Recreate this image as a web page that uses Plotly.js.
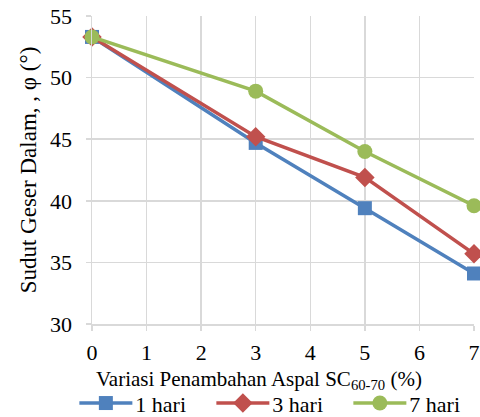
<!DOCTYPE html>
<html><head><meta charset="utf-8">
<script src="https://cdn.plot.ly/plotly-3.0.1.min.js"></script>
<style>html,body{margin:0;padding:0;background:#fff}#c{width:480px;height:417px}</style>
</head><body><div id="c"></div>
<script>
const xVals = [0, 3, 5, 7];
const hari1 = [53.3, 44.7, 39.4, 34.1];
const hari3 = [53.3, 45.2, 41.9, 35.7];
const hari7 = [53.3, 48.9, 44.0, 39.6];
const seriesNames = ['1 hari', '3 hari', '7 hari'];
const xTicks = [0, 1, 2, 3, 4, 5, 6, 7];
const yTicks = [30, 35, 40, 45, 50, 55];
const xTitle = 'Variasi Penambahan Aspal SC<sub>60-70</sub> (%)';
const yTitle = 'Sudut Geser Dalam, , φ (°)';

const font = 'Liberation Serif';
const colors = ['#4f81bd', '#c0504d', '#9bbb59'];
const symbols = ['square', 'diamond', 'circle'];
const sizes = [14, 15, 15];
const data = [hari1, hari3, hari7].map((y, i) => ({
  x: xVals, y: y, name: seriesNames[i], type: 'scatter', mode: 'lines+markers',
  line: {color: colors[i], width: 3.5},
  marker: {color: colors[i], symbol: symbols[i], size: sizes[i]},
  cliponaxis: false
}));

const layout = {
  width: 480, height: 417,
  margin: {l: 92, r: 6, t: 16, b: 93, autoexpand: false},
  paper_bgcolor: '#fff', plot_bgcolor: '#fff',
  font: {family: font, color: '#000', size: 20},
  showlegend: true,
  legend: {orientation: 'h', xref: 'container', yref: 'container',
    x: 0.157, xanchor: 'left', y: 0.033, yanchor: 'middle',
    font: {family: font, size: 22, color: '#000'}, itemwidth: 50, entrywidth: 60, tracegroupgap: 0,
    bgcolor: 'rgba(0,0,0,0)'},
  annotations: [{text: xTitle, xref: 'paper', yref: 'paper', x: 0.437, y: -0.182,
    xanchor: 'center', yanchor: 'middle', showarrow: false,
    font: {family: font, size: 21, color: '#000'}}],
  xaxis: {range: [0, 7], tickvals: xTicks, ticktext: xTicks.map(String),
    showgrid: true, gridcolor: '#d9d9d9', gridwidth: 1.5,
    showline: true, linecolor: '#d9d9d9', linewidth: 1.5,
    ticks: 'outside', ticklen: 5, tickcolor: '#d9d9d9', tickwidth: 1.5,
    ticklabelstandoff: 3,
    tickfont: {family: font, size: 22, color: '#000'}, zeroline: false},
  yaxis: {range: [30, 55], tickvals: yTicks, ticktext: yTicks.map(String),
    showgrid: true, gridcolor: '#d9d9d9', gridwidth: 1.5,
    showline: true, linecolor: '#d9d9d9', linewidth: 1.5,
    ticks: 'outside', ticklen: 5, tickcolor: '#d9d9d9', tickwidth: 1.5,
    ticklabelstandoff: 9,
    tickfont: {family: font, size: 22, color: '#000'}, zeroline: false,
    title: {text: yTitle, font: {family: font, size: 23, color: '#000'}}}
};
Plotly.newPlot('c', data, layout, {displayModeBar: false, staticPlot: true}).then(() => {
  // lengthen legend line samples and spread entries like the reference's legend
  document.querySelectorAll('.legendlines path').forEach(p => p.setAttribute('d', 'M4,0h53'));
  document.querySelectorAll('.legendpoints path.scatterpts').forEach(p => p.setAttribute('transform', 'translate(30.5,0)'));
  const items = document.querySelectorAll('.legend .traces');
  let x0 = null;
  items.forEach((g, i) => {
    const m = /translate\(\s*([-\d.]+)[ ,]+([-\d.]+)\s*\)/.exec(g.getAttribute('transform') || '');
    if (!m) return;
    if (x0 === null) x0 = parseFloat(m[1]);
    g.setAttribute('transform', 'translate(' + (x0 + i * 137) + ',' + m[2] + ')');
  });
  document.querySelectorAll('.legend [clip-path]').forEach(e => e.removeAttribute('clip-path'));
});
</script></body></html>
